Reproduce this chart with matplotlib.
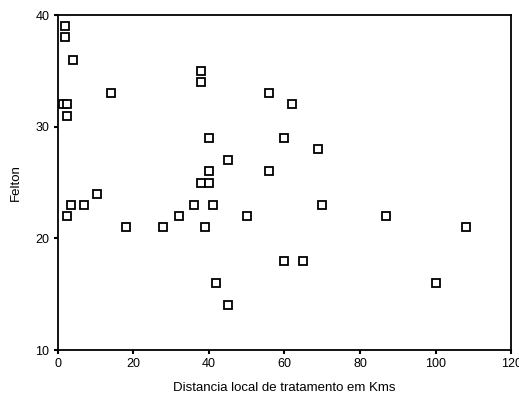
import matplotlib
matplotlib.use("Agg")
import matplotlib.pyplot as plt

# distance (km) vs Felton score
distancia = [2, 2, 4, 14, 1.5, 2.5, 2.5, 3.5, 2.5, 7, 10.5, 18, 28, 32, 36,
             38, 38, 38, 40, 40, 39, 41, 42, 45, 45, 40, 50, 56, 56, 60,
             62, 60, 65, 69, 70, 87, 100, 108]
felton = [39, 38, 36, 33, 32, 32, 31, 23, 22, 23, 24, 21, 21, 22, 23,
          35, 34, 25, 25, 29, 21, 23, 16, 14, 27, 26, 22, 33, 26, 29,
          32, 18, 18, 28, 23, 22, 16, 21]

xticks = [0, 20, 40, 60, 80, 100, 120]
yticks = [10, 20, 30, 40]

plt.rcParams['font.family'] = ['Liberation Sans', 'DejaVu Sans']

fig = plt.figure(figsize=(5.19, 4.08), dpi=100)
ax = fig.add_axes([0.111, 0.142, 0.874, 0.821])

ax.plot(distancia, felton, linestyle='none', marker='s', markersize=5.2,
        markerfacecolor='white', markeredgecolor='black', markeredgewidth=1.3)

ax.set_xlim(0, 120)
ax.set_ylim(10, 40)
ax.set_xticks(xticks)
ax.set_yticks(yticks)
ax.tick_params(direction='out', length=3, width=1.5, labelsize=9, pad=3)
for s in ax.spines.values():
    s.set_linewidth(1.3)
    s.set_color('black')

ax.set_xlabel('Distancia local de tratamento em Kms', fontsize=9.5, labelpad=8)
ax.set_ylabel('Felton', fontsize=9.5, labelpad=10)

fig.savefig('out.png', dpi=100)
